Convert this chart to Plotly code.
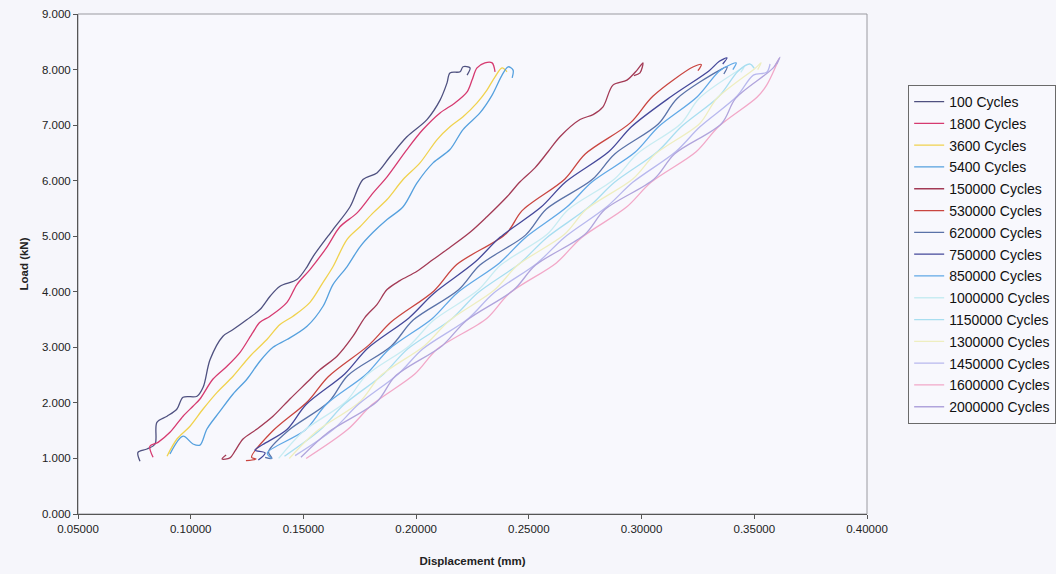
import plotly.graph_objects as go

# Load-displacement loops recorded at increasing cycle counts
names = ["100 Cycles", "1800 Cycles", "3600 Cycles", "5400 Cycles", "150000 Cycles",
         "530000 Cycles", "620000 Cycles", "750000 Cycles", "850000 Cycles",
         "1000000 Cycles", "1150000 Cycles", "1300000 Cycles", "1450000 Cycles",
         "1600000 Cycles", "2000000 Cycles"]

colors = ["#4f5180", "#d63a70", "#f0d24e", "#55a0de", "#a33a55",
          "#c94540", "#5a72a8", "#45489a", "#60a8e6",
          "#c8ecf2", "#a8def0", "#eeeec0", "#b8b8ee",
          "#f2a8c8", "#b0a4dc"]

disp_100 = [0.0775, 0.0766, 0.0806, 0.0842, 0.0850, 0.0895, 0.0939, 0.0966, 0.1028, 0.1055,
            0.1086, 0.1143, 0.1188, 0.1250, 0.1307, 0.1352, 0.1396, 0.1471, 0.1516, 0.1542,
            0.1631, 0.1707, 0.1764, 0.1826, 0.1884, 0.1959, 0.2048, 0.2106, 0.2137, 0.2150,
            0.2195, 0.2208, 0.2239, 0.2226]
load_100 = [0.95, 1.11, 1.17, 1.26, 1.65, 1.76, 1.89, 2.10, 2.12, 2.28,
            2.78, 3.20, 3.32, 3.50, 3.68, 3.92, 4.10, 4.22, 4.45, 4.63,
            5.12, 5.53, 6.02, 6.14, 6.43, 6.79, 7.10, 7.45, 7.76, 7.94,
            7.96, 8.05, 8.03, 7.90]

disp_1800 = [0.0833, 0.0819, 0.0855, 0.0908, 0.0966, 0.1010, 0.1041, 0.1099, 0.1161, 0.1219,
             0.1276, 0.1307, 0.1352, 0.1427, 0.1471, 0.1529, 0.1605, 0.1662, 0.1738, 0.1809,
             0.1871, 0.1959, 0.2030, 0.2106, 0.2172, 0.2226, 0.2248, 0.2270, 0.2305, 0.2337,
             0.2350]
load_1800 = [1.02, 1.22, 1.29, 1.47, 1.76, 1.94, 2.07, 2.43, 2.66, 2.91,
             3.27, 3.45, 3.56, 3.81, 4.13, 4.40, 4.81, 5.17, 5.42, 5.78,
             6.07, 6.56, 6.92, 7.22, 7.40, 7.60, 7.81, 8.03, 8.12, 8.12,
             7.96]

disp_3600 = [0.0895, 0.0939, 0.0997, 0.1055, 0.1117, 0.1188, 0.1263, 0.1338, 0.1396, 0.1454,
             0.1529, 0.1587, 0.1631, 0.1693, 0.1751, 0.1809, 0.1871, 0.1942, 0.2017, 0.2093,
             0.2150, 0.2208, 0.2270, 0.2314, 0.2350, 0.2381, 0.2403]
load_3600 = [1.04, 1.35, 1.58, 1.89, 2.19, 2.48, 2.84, 3.14, 3.41, 3.56,
             3.81, 4.17, 4.45, 4.94, 5.17, 5.42, 5.66, 6.02, 6.32, 6.74,
             6.97, 7.15, 7.40, 7.63, 7.87, 8.03, 7.96]

disp_5400 = [0.0908, 0.0966, 0.1010, 0.1041, 0.1072, 0.1130, 0.1188, 0.1250, 0.1307, 0.1365,
             0.1427, 0.1516, 0.1587, 0.1631, 0.1693, 0.1751, 0.1809, 0.1871, 0.1942, 0.2004,
             0.2075, 0.2150, 0.2208, 0.2283, 0.2337, 0.2381, 0.2408, 0.2430, 0.2426]
load_5400 = [1.08, 1.40, 1.26, 1.24, 1.53, 1.85, 2.16, 2.43, 2.75, 3.00,
             3.14, 3.38, 3.74, 4.13, 4.45, 4.81, 5.07, 5.30, 5.53, 5.96,
             6.32, 6.56, 6.92, 7.22, 7.54, 7.90, 8.05, 7.99, 7.85]

disp_150000 = [0.1157, 0.1139, 0.1174, 0.1196, 0.1232, 0.1294, 0.1365, 0.1440, 0.1516, 0.1574,
               0.1649, 0.1720, 0.1773, 0.1826, 0.1871, 0.1928, 0.2004, 0.2075, 0.2137, 0.2239,
               0.2314, 0.2403, 0.2461, 0.2527, 0.2585, 0.2638, 0.2727, 0.2785, 0.2829, 0.2873,
               0.2935, 0.2980, 0.3006, 0.2993, 0.2966]
load_150000 = [1.06, 0.99, 1.01, 1.13, 1.35, 1.53, 1.76, 2.07, 2.37, 2.60,
               2.84, 3.20, 3.54, 3.77, 4.04, 4.20, 4.37, 4.58, 4.76, 5.07,
               5.35, 5.71, 5.98, 6.23, 6.52, 6.79, 7.10, 7.19, 7.33, 7.72,
               7.81, 7.99, 8.12, 7.94, 7.89]

disp_530000 = [0.1245, 0.1290, 0.1270, 0.1360, 0.1520, 0.1610, 0.1790, 0.1890, 0.2080, 0.2180,
               0.2400, 0.2470, 0.2660, 0.2750, 0.2950, 0.3050, 0.3230, 0.3265, 0.3250]
load_530000 = [0.96, 0.99, 1.02, 1.48, 2.03, 2.47, 3.04, 3.46, 4.02, 4.49,
               5.05, 5.46, 6.03, 6.48, 7.04, 7.52, 8.05, 8.09, 7.98]

disp_620000 = [0.1330, 0.1360, 0.1345, 0.1432, 0.1613, 0.1696, 0.1889, 0.1987, 0.2187, 0.2283,
               0.2485, 0.2578, 0.2781, 0.2881, 0.3074, 0.3158, 0.3351, 0.3380, 0.3365]
load_620000 = [1.02, 1.00, 1.12, 1.50, 2.02, 2.49, 3.02, 3.49, 4.03, 4.48,
               5.02, 5.49, 6.02, 6.48, 7.02, 7.48, 8.00, 8.05, 7.92]

disp_750000 = [0.1300, 0.1330, 0.1285, 0.1320, 0.1427, 0.1512, 0.1683, 0.1784, 0.1968, 0.2078,
               0.2260, 0.2372, 0.2553, 0.2664, 0.2854, 0.2955, 0.3133, 0.3300, 0.3345, 0.3379,
               0.3360]
load_750000 = [0.97, 1.10, 1.15, 1.25, 1.52, 1.97, 2.52, 2.98, 3.53, 3.97,
               4.53, 4.98, 5.52, 5.98, 6.52, 6.97, 7.52, 7.98, 8.15, 8.21,
               8.10]

disp_850000 = [0.1359, 0.1340, 0.1508, 0.1603, 0.1777, 0.1881, 0.2072, 0.2182, 0.2370, 0.2483,
               0.2667, 0.2781, 0.2971, 0.3075, 0.3247, 0.3344, 0.3400, 0.3420, 0.3405]
load_850000 = [1.00, 1.10, 1.51, 1.98, 2.51, 2.97, 3.52, 3.98, 4.52, 4.97,
               5.52, 5.98, 6.51, 6.97, 7.51, 7.97, 8.10, 8.12, 8.00]

disp_1000000 = [0.1390, 0.1500, 0.1690, 0.1775, 0.1970, 0.2075, 0.2275, 0.2375, 0.2580, 0.2675,
                0.2880, 0.2980, 0.3175, 0.3255, 0.3435, 0.3455, 0.3440]
load_1000000 = [1.00, 1.49, 2.03, 2.48, 3.03, 3.48, 4.03, 4.48, 5.03, 5.48,
                6.03, 6.48, 7.03, 7.48, 8.00, 8.05, 7.95]

disp_1150000 = [0.1416, 0.1576, 0.1680, 0.1856, 0.1962, 0.2160, 0.2270, 0.2462, 0.2578, 0.2764,
                0.2880, 0.3070, 0.3176, 0.3344, 0.3428, 0.3480, 0.3500]
load_1150000 = [1.04, 1.52, 1.97, 2.52, 2.97, 3.52, 3.97, 4.52, 4.97, 5.52,
                5.97, 6.52, 6.97, 7.52, 7.97, 8.10, 8.02]

disp_1300000 = [0.1437, 0.1556, 0.1753, 0.1840, 0.2037, 0.2147, 0.2347, 0.2451, 0.2657, 0.2754,
                0.2961, 0.3061, 0.3258, 0.3334, 0.3503, 0.3530, 0.3515]
load_1300000 = [1.00, 1.48, 2.03, 2.48, 3.03, 3.48, 4.03, 4.48, 5.03, 5.48,
                6.03, 6.48, 7.03, 7.48, 8.02, 8.12, 8.00]

disp_1450000 = [0.1463, 0.1632, 0.1743, 0.1921, 0.2029, 0.2232, 0.2342, 0.2538, 0.2655, 0.2843,
                0.2961, 0.3151, 0.3259, 0.3423, 0.3496, 0.3555, 0.3570]
load_1450000 = [1.05, 1.52, 1.97, 2.52, 2.97, 3.52, 3.97, 4.52, 4.97, 5.52,
                5.97, 6.52, 6.97, 7.52, 7.90, 7.95, 8.10]

disp_1600000 = [0.1512, 0.1696, 0.1805, 0.1994, 0.2094, 0.2313, 0.2413, 0.2622, 0.2732, 0.2932,
                0.3042, 0.3242, 0.3341, 0.3512, 0.3555, 0.3610, 0.3590]
load_1600000 = [1.00, 1.52, 1.97, 2.52, 2.97, 3.52, 3.97, 4.52, 4.97, 5.52,
                5.97, 6.52, 6.97, 7.50, 7.72, 8.20, 8.05]

disp_2000000 = [0.1489, 0.1613, 0.1828, 0.1907, 0.2116, 0.2222, 0.2432, 0.2530, 0.2748, 0.2837,
                0.3056, 0.3146, 0.3355, 0.3417, 0.3584, 0.3614, 0.3600]
load_2000000 = [1.02, 1.48, 2.03, 2.48, 3.03, 3.48, 4.03, 4.48, 5.03, 5.48,
                6.03, 6.48, 7.03, 7.48, 8.03, 8.22, 8.10]

displacements = [disp_100, disp_1800, disp_3600, disp_5400, disp_150000, disp_530000,
                 disp_620000, disp_750000, disp_850000, disp_1000000, disp_1150000,
                 disp_1300000, disp_1450000, disp_1600000, disp_2000000]
loads = [load_100, load_1800, load_3600, load_5400, load_150000, load_530000,
         load_620000, load_750000, load_850000, load_1000000, load_1150000,
         load_1300000, load_1450000, load_1600000, load_2000000]

x_ticks = [0.05, 0.10, 0.15, 0.20, 0.25, 0.30, 0.35, 0.40]
y_ticks = [0, 1, 2, 3, 4, 5, 6, 7, 8, 9]

FONT = "Liberation Sans, Arial, sans-serif"

fig = go.Figure()
for name, col, xs, ys in zip(names, colors, displacements, loads):
    fig.add_trace(go.Scatter(
        x=xs, y=ys, name=name, mode="lines", legendgroup=name,
        line=dict(color=col, width=1.3, shape="spline", smoothing=0.9),
    ))

fig.update_layout(
    width=1056, height=574,
    margin=dict(l=78, r=189, t=8, b=59),
    paper_bgcolor="#f6f6fb",
    plot_bgcolor="#f8f8fd",
    font=dict(family=FONT, size=11, color="#222222"),
    showlegend=True,
    legend=dict(
        xref="container", yref="container",
        x=0.860, y=0.852, xanchor="left", yanchor="top",
        maxheight=0.95,
        bgcolor="#f8f8fd", bordercolor="#6a6a6a", borderwidth=1,
        font=dict(family=FONT, size=14, color="#111111"),
        tracegroupgap=0.6, itemwidth=30,
    ),
    xaxis=dict(
        range=[0.05, 0.40], tickvals=x_ticks, tickformat=".5f",
        showgrid=False, zeroline=False,
        showline=True, linecolor="#555555", linewidth=1, mirror=False,
        ticks="outside", ticklen=4, tickcolor="#555555",
        tickfont=dict(size=11.5, color="#222222"),
        title=dict(text="<b>Displacement (mm)</b>", font=dict(size=11.5, color="#222222"), standoff=23),
    ),
    yaxis=dict(
        range=[0, 9], tickvals=y_ticks, tickformat=".3f",
        showgrid=False, zeroline=False,
        showline=True, linecolor="#555555", linewidth=1, mirror=False,
        ticks="outside", ticklen=4, tickcolor="#555555",
        tickfont=dict(size=11.5, color="#222222"),
        title=dict(text="<b>Load (kN)</b>", font=dict(size=11.5, color="#222222"), standoff=10),
    ),
    shapes=[
        dict(type="rect", xref="paper", yref="paper", x0=0, y0=0, x1=1, y1=1,
             line=dict(color="#9a9aa0", width=1), layer="below"),
    ],
)

fig.write_html("out.html")
